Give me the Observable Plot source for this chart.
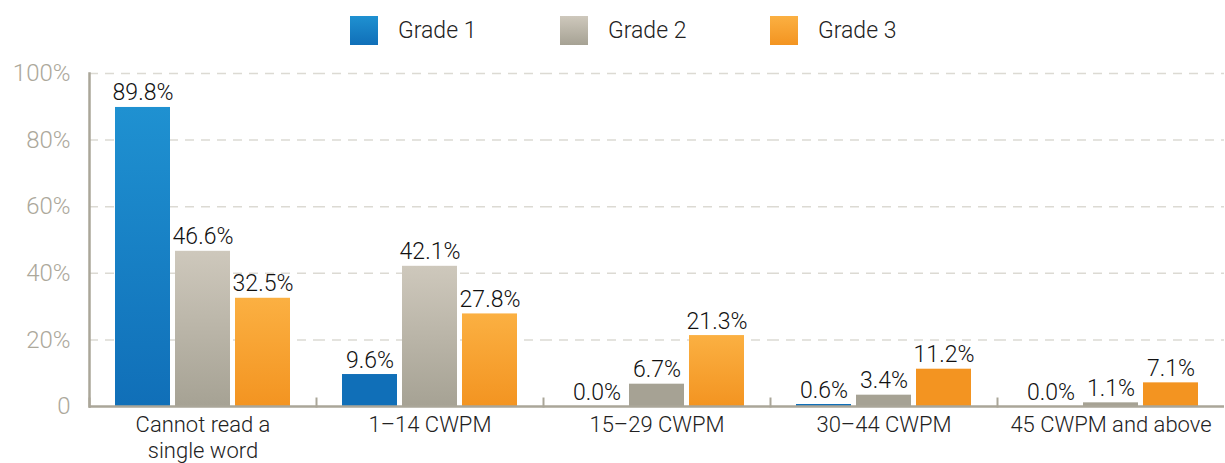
<!DOCTYPE html>
<html><head><meta charset="utf-8">
<script src="https://cdn.jsdelivr.net/npm/d3@7"></script>
<script src="https://cdn.jsdelivr.net/npm/@observablehq/plot@0.6"></script>
<style>
body{margin:0;background:#fff;font-family:Roboto,sans-serif;}
#legend{height:60px;display:flex;align-items:center;padding-left:350px;box-sizing:border-box;}
.item{width:210px;display:flex;align-items:center;font-size:23px;font-weight:300;color:#222;}
.sw{width:28px;height:29px;margin-right:20px;}
#chart svg{display:block;}
</style></head><body>
<div id="legend"></div>
<div id="chart"></div>
<script>
const categories = ["Cannot read a single word","1–14 CWPM","15–29 CWPM","30–44 CWPM","45 CWPM and above"];
const tickLabels = ["Cannot read a\nsingle word","1–14 CWPM","15–29 CWPM","30–44 CWPM","45 CWPM and above"];
const grades = ["Grade 1","Grade 2","Grade 3"];
const grade1 = [89.8, 9.6, 0.0, 0.6, 0.0];
const grade2 = [46.6, 42.1, 6.7, 3.4, 1.1];
const grade3 = [32.5, 27.8, 21.3, 11.2, 7.1];
const yTicks = [0, 20, 40, 60, 80, 100];

const gradColors = {
  "Grade 1": ["#1f91d1", "#106fb8"],
  "Grade 2": ["#cec8bc", "#a6a294"],
  "Grade 3": ["#fbb042", "#f39421"]
};
const gradId = {"Grade 1": "g1", "Grade 2": "g2", "Grade 3": "g3"};

const series = [grade1, grade2, grade3];
const data = [];
categories.forEach((c, i) => grades.forEach((g, j) => data.push({category: c, grade: g, value: series[j][i]})));

// legend
const leg = document.getElementById("legend");
grades.forEach(g => {
  const it = document.createElement("div"); it.className = "item";
  const sw = document.createElement("div"); sw.className = "sw";
  sw.style.background = `linear-gradient(${gradColors[g][0]}, ${gradColors[g][1]})`;
  const t = document.createElement("span"); t.textContent = g;
  it.appendChild(sw); it.appendChild(t); leg.appendChild(it);
});

const labelOf = Object.fromEntries(categories.map((c, i) => [c, tickLabels[i]]));

const plot = Plot.plot({
  width: 1225, height: 403,
  marginTop: 13, marginBottom: 57, marginLeft: 87, marginRight: 0,
  style: {fontFamily: "Roboto, sans-serif", fontWeight: 300, background: "white"},
  fx: {domain: categories, padding: 0},
  x: {domain: grades, paddingInner: 0.08, paddingOuter: 0.41, axis: null},
  y: {domain: [0, 100], axis: null},
  marks: [
    Plot.ruleY(yTicks.filter(d => d > 0), {stroke: "#dcdad3", strokeWidth: 1.5, strokeDasharray: "9,7"}),
    Plot.barY(data, {fx: "category", x: "grade", y: "value",
      fill: d => d.value > 15 ? `url(#${gradId[d.grade]})` : gradColors[d.grade][1]}),
    Plot.text(data, {fx: "category", x: "grade", y: "value", text: d => d.value.toFixed(1) + "%",
      lineAnchor: "bottom", dy: -7, fontSize: 23, fontWeight: 300, fill: "#111"}),
    Plot.ruleY([0], {stroke: "#aaa699", strokeWidth: 2.5}),
    Plot.frame({anchor: "left", insetTop: 325, stroke: "#aaa699", strokeWidth: 2}),
    Plot.frame({anchor: "left", fx: [categories[0]], stroke: "#aaa699", strokeWidth: 2.5}),
    Plot.axisY({ticks: yTicks, tickFormat: d => d === 0 ? "0" : d + "%", tickSize: 0, tickPadding: 19,
      fontSize: 24, fontWeight: 300, color: "#aca89b", label: null}),
    Plot.axisFx({anchor: "bottom", tickSize: 0, tickPadding: 7, fontSize: 22, fontWeight: 300, label: null,
      tickFormat: d => labelOf[d], lineHeight: 1.18, color: "#222"})
  ]
});

const svg = d3.select(plot);
const defs = svg.insert("defs", ":first-child");
grades.forEach(g => {
  const lg = defs.append("linearGradient").attr("id", gradId[g]).attr("x1", 0).attr("y1", 0).attr("x2", 0).attr("y2", 1);
  lg.append("stop").attr("offset", "0%").attr("stop-color", gradColors[g][0]);
  lg.append("stop").attr("offset", "100%").attr("stop-color", gradColors[g][1]);
});
document.getElementById("chart").appendChild(plot);
</script>
</body></html>
